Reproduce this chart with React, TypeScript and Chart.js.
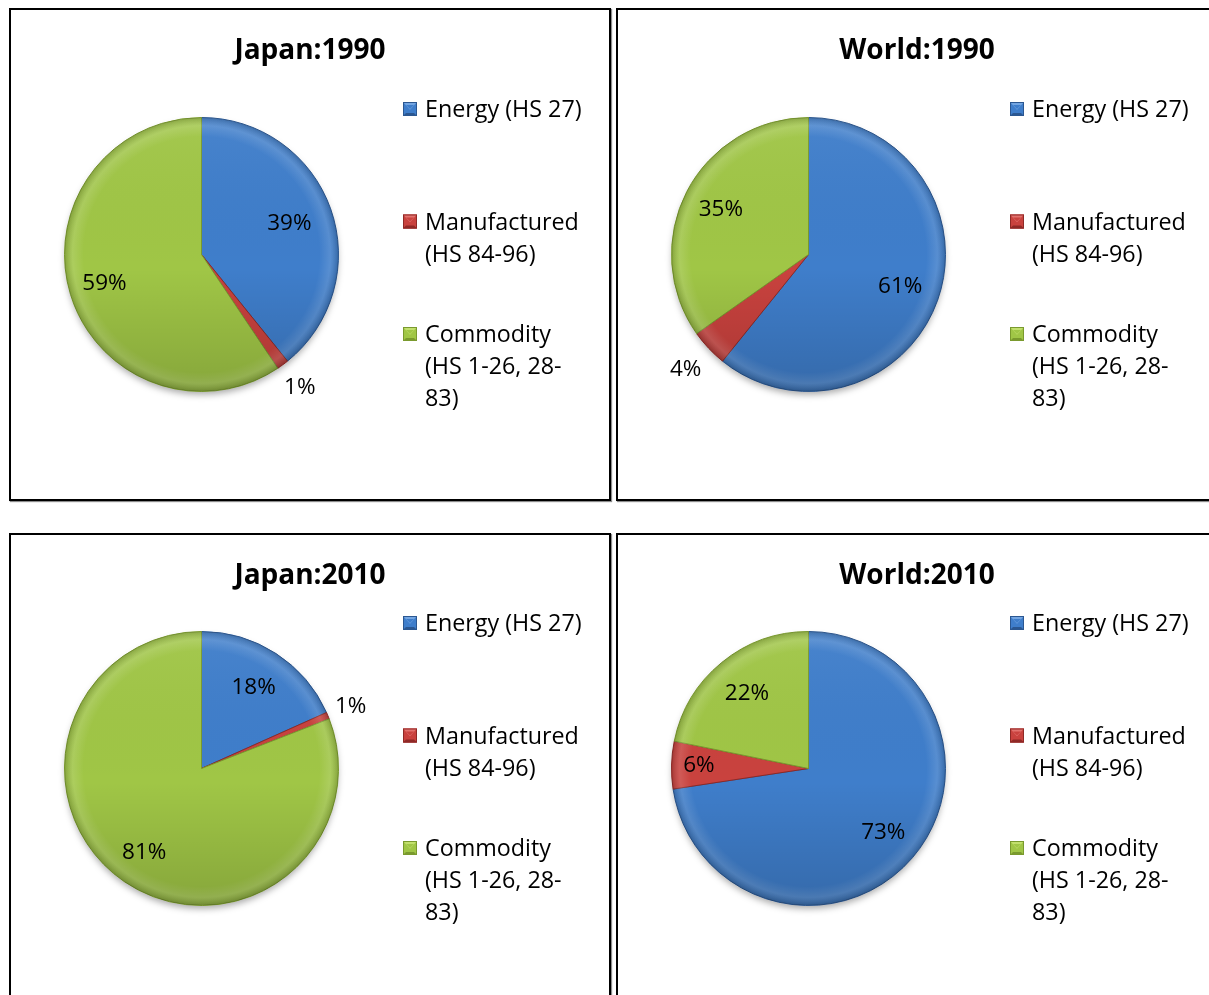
import React, { useEffect, useRef } from "react";
import { Chart, registerables } from "chart.js";

Chart.register(...registerables);

// ---------- data ----------
const categories = ["Energy (HS 27)", "Manufactured (HS 84-96)", "Commodity (HS 1-26, 28-83)"];
const titles = ["Japan:1990", "World:1990", "Japan:2010", "World:2010"];
const japan1990 = [39.2, 1.4, 59.4];
const world1990 = [60.8, 4.4, 34.8];
const japan2010 = [18.3, 0.8, 80.9];
const world2010 = [72.6, 5.6, 21.8];

// ---------- style ----------
const FONT = '"Open Sans", "DejaVu Sans", sans-serif';
const PANEL_W = 602;
const PANEL_H = 493;

const palette = [
  { base: "#3f7ecb", light: "#74a6e2", dark: "#2b5791" },
  { base: "#c9423e", light: "#e2726e", dark: "#8f2926" },
  { base: "#a0c646", light: "#c3e06e", dark: "#7a9a2e" },
];

type PanelSpec = {
  title: string;
  values: number[];
  left: number;
  top: number;
  shift: number;
  labelRadius: number[];
};

const panels: PanelSpec[] = [
  { title: titles[0], values: japan1990, left: 9, top: 8, shift: 0, labelRadius: [0.68, 1.21, 0.74] },
  { title: titles[1], values: world1990, left: 616, top: 8, shift: 0, labelRadius: [0.71, 1.23, 0.72] },
  { title: titles[2], values: japan2010, left: 9, top: 533, shift: -11, labelRadius: [0.7, 1.18, 0.74] },
  { title: titles[3], values: world2010, left: 616, top: 533, shift: -11, labelRadius: [0.72, 0.8, 0.71] },
];

function wrapText(ctx: CanvasRenderingContext2D, text: string, maxW: number): string[] {
  const tokens = text.split(/(?<=[\s-])/);
  const lines: string[] = [];
  let line = "";
  for (const t of tokens) {
    const candidate = line + t;
    if (line && ctx.measureText(candidate.trimEnd()).width > maxW) {
      lines.push(line.trimEnd());
      line = t;
    } else {
      line = candidate;
    }
  }
  if (line) lines.push(line.trimEnd());
  return lines;
}

function drawMarker(ctx: CanvasRenderingContext2D, x: number, y: number, s: number, p: { base: string; light: string; dark: string }) {
  const b = 3;
  ctx.save();
  ctx.fillStyle = p.base;
  ctx.fillRect(x, y, s, s);
  ctx.fillStyle = p.light;
  ctx.beginPath();
  ctx.moveTo(x, y);
  ctx.lineTo(x + s, y);
  ctx.lineTo(x + s / 2, y + s * 0.55);
  ctx.closePath();
  ctx.fill();
  ctx.fillStyle = p.base;
  ctx.beginPath();
  ctx.moveTo(x + b, y + b);
  ctx.lineTo(x + s - b, y + b);
  ctx.lineTo(x + s / 2, y + s * 0.5);
  ctx.closePath();
  ctx.fill();
  ctx.fillStyle = p.dark;
  ctx.beginPath();
  ctx.moveTo(x, y + s);
  ctx.lineTo(x + s, y + s);
  ctx.lineTo(x + s - b, y + s - b);
  ctx.lineTo(x + b, y + s - b);
  ctx.closePath();
  ctx.fill();
  ctx.strokeStyle = p.dark;
  ctx.lineWidth = 1;
  ctx.strokeRect(x + 0.5, y + 0.5, s - 1, s - 1);
  ctx.restore();
}

function makeDecor(spec: PanelSpec) {
  return {
    id: "decor",
    beforeDatasetsDraw(chart: any) {
      const arc = chart.getDatasetMeta(0).data[0];
      if (!arc) return;
      const ctx: CanvasRenderingContext2D = chart.ctx;
      ctx.save();
      ctx.shadowColor = "rgba(0,0,0,0.35)";
      ctx.shadowBlur = 7;
      ctx.shadowOffsetY = 4;
      ctx.fillStyle = "#ffffff";
      ctx.beginPath();
      ctx.arc(arc.x, arc.y, arc.outerRadius - 1, 0, Math.PI * 2);
      ctx.fill();
      ctx.restore();
    },
    afterDatasetsDraw(chart: any) {
      const meta = chart.getDatasetMeta(0);
      const arc0 = meta.data[0];
      if (!arc0) return;
      const ctx: CanvasRenderingContext2D = chart.ctx;
      const cx = arc0.x, cy = arc0.y, r = arc0.outerRadius;
      ctx.save();
      ctx.beginPath();
      ctx.arc(cx, cy, r, 0, Math.PI * 2);
      ctx.clip();
      const rg = ctx.createRadialGradient(cx, cy, 0, cx, cy, r);
      rg.addColorStop(0, "rgba(255,255,255,0)");
      rg.addColorStop(0.86, "rgba(255,255,255,0)");
      rg.addColorStop(0.94, "rgba(255,255,255,0.13)");
      rg.addColorStop(1, "rgba(0,0,0,0.18)");
      ctx.fillStyle = rg;
      ctx.fillRect(cx - r, cy - r, 2 * r, 2 * r);
      const lg = ctx.createLinearGradient(0, cy - r, 0, cy + r);
      lg.addColorStop(0, "rgba(255,255,255,0.05)");
      lg.addColorStop(0.55, "rgba(0,0,0,0)");
      lg.addColorStop(1, "rgba(0,0,0,0.16)");
      ctx.fillStyle = lg;
      ctx.fillRect(cx - r, cy - r, 2 * r, 2 * r);
      ctx.restore();

      const data: number[] = chart.data.datasets[0].data;
      const total = data.reduce((a, b) => a + b, 0);
      ctx.save();
      ctx.font = `22.5px ${FONT}`;
      ctx.fillStyle = "#000";
      ctx.textAlign = "center";
      ctx.textBaseline = "middle";
      meta.data.forEach((el: any, i: number) => {
        const { startAngle, endAngle, outerRadius, x, y } = el.getProps(
          ["startAngle", "endAngle", "outerRadius", "x", "y"],
          true
        );
        const mid = (startAngle + endAngle) / 2;
        const f = spec.labelRadius[i];
        const lx = x + Math.cos(mid) * outerRadius * f;
        const ly = y + Math.sin(mid) * outerRadius * f;
        ctx.fillText(Math.round((data[i] / total) * 100) + "%", lx, ly);
      });
      ctx.restore();
    },
    afterDraw(chart: any) {
      const ctx: CanvasRenderingContext2D = chart.ctx;
      ctx.save();
      ctx.font = `bold 28px ${FONT}`;
      ctx.fillStyle = "#000";
      ctx.textAlign = "center";
      ctx.textBaseline = "alphabetic";
      ctx.fillText(spec.title, chart.width / 2, 51);
      ctx.restore();

      ctx.save();
      ctx.font = `23.3px ${FONT}`;
      ctx.fillStyle = "#000";
      ctx.textAlign = "left";
      ctx.textBaseline = "alphabetic";
      const labels: string[] = chart.data.labels;
      const markerX = 394;
      const textX = 416;
      const base0 = 109 + spec.shift;
      const spacing = 112.5;
      const lineH = 32;
      labels.forEach((lab, i) => {
        const baseY = base0 + i * spacing;
        drawMarker(ctx, markerX, baseY - 15, 14, palette[i]);
        const lines = wrapText(ctx, lab, 164);
        ctx.fillStyle = "#000";
        lines.forEach((ln, j) => ctx.fillText(ln, textX, baseY + j * lineH));
      });
      ctx.restore();
    },
  };
}

function Panel({ spec }: { spec: PanelSpec }) {
  const ref = useRef<HTMLCanvasElement | null>(null);
  useEffect(() => {
    if (!ref.current) return;
    const cx = 192.5;
    const cy = 246.5 + spec.shift;
    const r = 137.5;
    const chart = new Chart(ref.current, {
      type: "pie",
      data: {
        labels: categories,
        datasets: [
          {
            data: spec.values,
            backgroundColor: palette.map((p) => p.base),
            borderColor: palette.map((p) => p.dark),
            borderWidth: 1,
          },
        ],
      },
      options: {
        responsive: false,
        animation: false,
        layout: {
          padding: {
            left: cx - r,
            right: PANEL_W - (cx + r),
            top: cy - r,
            bottom: PANEL_H - (cy + r),
          },
        },
        plugins: {
          legend: { display: false },
          title: { display: false },
          tooltip: { enabled: false },
        },
      },
      plugins: [makeDecor(spec)],
    } as any);
    return () => chart.destroy();
  }, [spec]);

  return (
    <div
      style={{
        position: "absolute",
        left: spec.left,
        top: spec.top,
        width: PANEL_W,
        height: PANEL_H,
        background: "#fff",
      }}
    >
      <canvas
        ref={ref}
        width={PANEL_W}
        height={PANEL_H}
        style={{ position: "absolute", left: 0, top: 0, display: "block" }}
      />
      <div
        style={{
          position: "absolute",
          left: 0,
          top: 0,
          width: PANEL_W,
          height: PANEL_H,
          boxSizing: "border-box",
          border: "2px solid #000",
          boxShadow: "1px 1px 1px rgba(0,0,0,0.45)",
          pointerEvents: "none",
        }}
      />
    </div>
  );
}

export default function App() {
  return (
    <div
      style={{
        position: "fixed",
        left: 0,
        top: 0,
        width: 1209,
        height: 995,
        overflow: "hidden",
        background: "#fff",
      }}
    >
      {panels.map((p, i) => (
        <Panel key={i} spec={p} />
      ))}
    </div>
  );
}
